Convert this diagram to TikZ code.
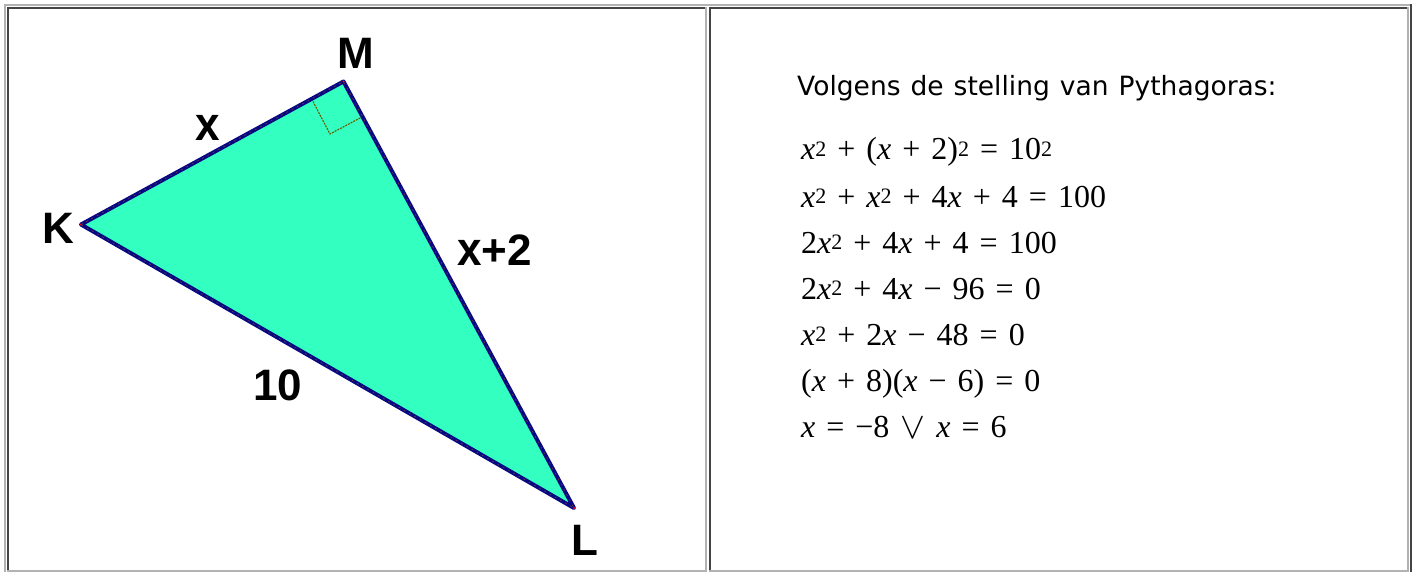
\documentclass[tikz,border=0pt]{standalone}
\usepackage{fontspec}
\usepackage{graphicx}
\setmainfont{Liberation Serif}
\newfontfamily\lblfont{Liberation Sans}
\newfontfamily\headfont{DejaVu Sans}
\definecolor{lightgr}{RGB}{178,178,178}
\definecolor{darkgr}{RGB}{68,68,68}
\definecolor{trifill}{RGB}{51,255,192}
\definecolor{triline}{RGB}{8,8,130}
\definecolor{marker}{RGB}{110,90,0}
\newcommand\vx{\textit{x}}
\newcommand\two{\raisebox{3.5pt}{\fontsize{22}{22}\selectfont 2}}
\newcommand\tx{\scalebox{1}[1.08]{x}}
\newcommand\myor{\raisebox{-1pt}{\scalebox{1.5}{$\vee$}}}
\newcommand\myeqfont{\fontsize{32}{36}\selectfont\spaceskip 11pt\relax}
\newcommand\myheadfont{\headfont\fontsize{26.5}{30}\selectfont\spaceskip 10pt\relax}
\tikzset{
  lightb/.style={draw=lightgr,line width=2pt},
  darkb/.style={draw=darkgr,line width=2pt},
  vlabel/.style={font=\lblfont\bfseries\fontsize{44}{44}\selectfont,anchor=base west,inner sep=0pt},
  eqline/.style={font=\myeqfont,anchor=base west,inner sep=0pt},
  headline/.style={font=\myheadfont,anchor=base west,inner sep=0pt},
  triedge/.style={draw=triline,line width=4pt,line join=round,line cap=round},
}
\begin{document}
\begin{tikzpicture}[x=1pt,y=-1pt]
\useasboundingbox (0,0) rectangle (1420,572);
\fill[white] (0,0) rectangle (1420,572);
% outer table
\draw[lightb] (4,5) -- (1412,5);
\draw[lightb] (5,4) -- (5,572);
\draw[darkb] (1411,4) -- (1411,572);
% left cell
\draw[darkb] (7,8) -- (706,8);
\draw[darkb] (8,7) -- (8,571);
\draw[lightb] (706,7) -- (706,571);
\draw[lightb] (7,570.5) -- (707,570.5);
% right cell
\draw[darkb] (709,8) -- (1409,8);
\draw[darkb] (710,7) -- (710,571);
\draw[lightb] (1408,7) -- (1408,571);
\draw[lightb] (709,570.5) -- (1409,570.5);
% triangle
\coordinate (K) at (81,224.5);
\coordinate (M) at (343.5,81.5);
\coordinate (L) at (574,508);
\fill[trifill] (K) -- (M) -- (L) -- cycle;
\coordinate (P1) at (313,101.5);
\coordinate (P2) at (330,134);
\coordinate (P3) at (361,117.5);
\draw[marker,line width=1.1pt,dash pattern=on 2pt off 1pt] (P1) -- (P2) -- (P3);
\draw[triedge] (K) -- (M) -- (L) -- cycle;
\draw[orange!80!black,line width=0.5pt,dash pattern=on 2pt off 4pt,opacity=0.6] (K) -- (M) -- (L) -- cycle;
\foreach \p in {K,M,L} \fill[red] (\p) circle (1.2);
% labels
\node[vlabel] (lM) at (337,69) {M};
\node[vlabel] (lK) at (42,243) {K};
\node[vlabel] (lx) at (195,141) {\tx};
\node[vlabel] (lx2) at (457,265) {\tx+2};
\node[vlabel] (l10) at (253,400) {10};
\node[vlabel] (lL) at (571,555) {L};
% right text
\node[headline] (head) at (797,96) {Volgens de stelling van Pythagoras:};
\node[eqline] (e1) at (801,160) {\vx\two{} + (\vx{} + 2)\two{} = 10\two};
\node[eqline] (e2) at (801,207) {\vx\two{} + \vx\two{} + 4\vx{} + 4 = 100};
\node[eqline] (e3) at (801,253) {2\vx\two{} + 4\vx{} + 4 = 100};
\node[eqline] (e4) at (801,299) {2\vx\two{} + 4\vx{} − 96 = 0};
\node[eqline] (e5) at (801,345) {\vx\two{} + 2\vx{} − 48 = 0};
\node[eqline] (e6) at (801,391) {(\vx{} + 8)(\vx{} − 6) = 0};
\node[eqline] (e7) at (801,437) {\vx{} = −8 \myor{} \vx{} = 6};
\end{tikzpicture}
\end{document}
